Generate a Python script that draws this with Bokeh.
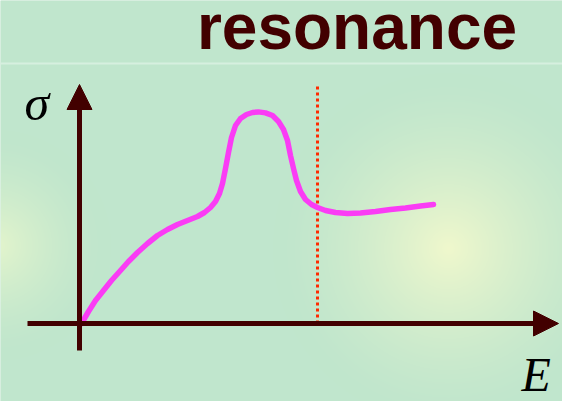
import numpy as np
from bokeh.plotting import figure
from bokeh.models import Range1d, Arrow, NormalHead, Span
from bokeh.core.properties import value
from bokeh.embed import file_html
from bokeh.resources import INLINE

# Cross-section sigma versus energy E (arbitrary units), with a resonance bump
energy = [0.1, 0.45, 0.8, 1.2, 1.6, 2.05, 2.45, 2.9, 3.4, 3.9, 4.4, 4.9, 5.4, 5.9,
          6.25, 6.55, 6.8, 7.0, 7.15, 7.3, 7.45, 7.6, 7.8, 8.05, 8.35, 8.65, 8.95,
          9.3, 9.65, 9.95, 10.2, 10.4, 10.55, 10.7, 10.85, 11.05, 11.3, 11.6, 11.9,
          12.3, 12.8, 13.4, 14.05, 14.8, 15.55, 16.3, 17.05, 17.7]
sigma = [0.0, 0.6, 1.15, 1.65, 2.15, 2.65, 3.1, 3.55, 4.0, 4.4, 4.7, 4.95, 5.15, 5.35,
         5.55, 5.8, 6.1, 6.5, 7.0, 7.75, 8.55, 9.3, 9.9, 10.25, 10.45, 10.55, 10.58,
         10.53, 10.4, 10.1, 9.7, 9.15, 8.4, 7.75, 7.15, 6.6, 6.2, 5.95, 5.8,
         5.65, 5.55, 5.5, 5.53, 5.6, 5.7, 5.78, 5.88, 5.95]

# Marker for the energy just past the resonance
resonance_energy = 11.9
resonance_top = 11.9

# Axis extents (data units)
e_axis = [-2.6, 23.95]
s_axis = [-1.35, 11.95]

title_text = "resonance"
x_label = "E"
y_label = "σ"

X0, X1 = -3.95, 24.15
Y0, Y1 = -3.9, 16.15
W, H = 562, 401

BASE = "#c0e6cd"
DARK = "#420000"

p = figure(width=W, height=H, x_range=Range1d(X0, X1), y_range=Range1d(Y0, Y1),
           output_backend="svg", toolbar_location=None,
           x_axis_type=None, y_axis_type=None, min_border=0)
p.grid.visible = False
p.outline_line_color = None
p.background_fill_color = BASE
p.border_fill_color = BASE

# Soft background glows
gx, gy = np.meshgrid(np.arange(W) + 0.5, np.arange(H) + 0.5)
gy = H - gy  # image rows run bottom-up
base = np.array([192, 230, 205], dtype=float)
glows = [((448, 248), 175, np.array([240, 248, 204], dtype=float), 1.5),
         ((-5, 245), 115, np.array([228, 245, 204], dtype=float), 1.6)]
rgb = np.zeros((H, W, 3)) + base
for (cx, cy), rad, col, k in glows:
    r = np.hypot(gx - cx, gy - cy) / rad
    f = np.clip(1 - r, 0, 1) ** k
    rgb = rgb + (col - base) * f[..., None]
rgb = np.clip(rgb, 0, 255).astype(np.uint8)
img = np.empty((H, W), dtype=np.uint32)
view = img.view(dtype=np.uint8).reshape((H, W, 4))
view[..., :3] = rgb
view[..., 3] = 255
p.image_rgba(image=[img], x=X0, y=Y0, dw=X1 - X0, dh=Y1 - Y0)

# Title separator
p.add_layout(Span(location=13.0, dimension="width", line_color="#d6efdf", line_width=2))

# Axes with arrow heads
p.add_layout(Arrow(x_start=e_axis[0], y_start=0, x_end=e_axis[1], y_end=0,
                   line_color=DARK, line_width=5,
                   end=NormalHead(size=25, fill_color=DARK, line_color=DARK, line_width=1)))
p.add_layout(Arrow(x_start=0, y_start=s_axis[0], x_end=0, y_end=s_axis[1],
                   line_color=DARK, line_width=5,
                   end=NormalHead(size=25, fill_color=DARK, line_color=DARK, line_width=1)))

# Resonance marker
p.line([resonance_energy, resonance_energy], [0, resonance_top],
       line_color="#ff2a00", line_width=3, line_dash="3 3")

# Cross-section curve
p.line(energy, sigma, line_color="#fa3cf5", line_width=5.5,
       line_cap="round", line_join="round")

# Texts
p.text(x=[13.875], y=[14.85], text=[title_text], text_font=value("Liberation Sans"),
       text_font_style="bold", text_font_size="64px", text_color=DARK,
       text_align="center", text_baseline="alphabetic")
p.text(x=[-2.75], y=[11.05], text=[y_label], text_font=value("Liberation Serif"),
       text_font_style="italic", text_font_size="50px", text_color="black",
       text_align="left", text_baseline="alphabetic")
p.text(x=[22.1], y=[-2.55], text=[x_label], text_font=value("Liberation Serif"),
       text_font_style="italic", text_font_size="48px", text_color="black",
       text_align="left", text_baseline="alphabetic")

open("out.html", "w").write(file_html(p, INLINE))
